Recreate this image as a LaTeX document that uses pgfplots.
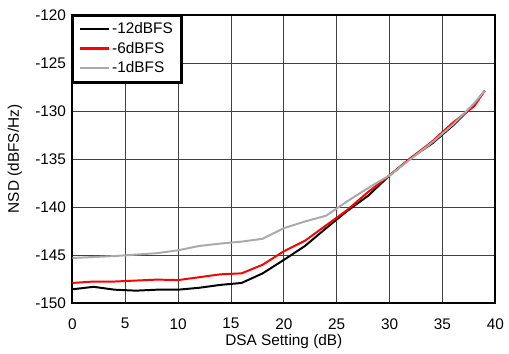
\documentclass[border=0pt]{standalone}
\usepackage{pgfplots}
\pgfplotsset{compat=1.18}
\usepackage{fontspec}
\setmainfont{Liberation Sans}
\definecolor{lgray}{RGB}{170,170,170}
\begin{document}
\fontsize{15.5}{17.3}\selectfont
\begin{tikzpicture}
\begin{axis}[
  scale only axis,
  width=427pt, height=291pt,
  xmin=0, xmax=40, ymin=-150, ymax=-120,
  xtick={0,5,...,40},
  ytick={-150,-145,...,-120},
  yticklabels={-150,-145,-140,-135,-130,-125,-120},
  /pgf/number format/assume math mode=true,
  major tick length=0pt,
  grid=major,
  major grid style={black!75, line width=0.8pt},
  axis line style={black, line width=1.8pt},
  tick label style={font=\fontsize{15.5}{17}\selectfont},
  label style={font=\fontsize{15.5}{17}\selectfont},
  xlabel={DSA Setting (dB)},
  ylabel={NSD (dBFS/Hz)},
  xlabel style={at={(axis description cs:0.5,-0.133)}, anchor=center},
  ylabel style={at={(axis description cs:-0.136,0.5)}, anchor=center},
  xticklabel style={yshift=-10pt},
  yticklabel style={xshift=-1pt},
  legend style={name=leg, at={(0,1)}, anchor=north west, draw=black, line width=2pt,
    font=\fontsize{15.5}{17.3}\selectfont, cells={anchor=west},
    inner xsep=6pt, inner ysep=5pt, row sep=2pt},
  legend image code/.code={\draw[#1, line width=2.3pt] (0pt,0.4pt) -- (29pt,0.4pt);},
  every axis plot/.append style={line width=2pt},
]
\addplot[black] coordinates {
(0,-148.56) (2,-148.3) (4,-148.6) (6,-148.7) (8,-148.6) (10,-148.6) (12,-148.4) (14,-148.1) (16,-147.9) (18,-146.9) (20,-145.5) (22,-144.05) (24,-142.2) (26,-140.4) (28,-138.8) (30,-136.7) (32,-134.9) (34,-133.4) (36,-131.5) (38,-129.3) (39,-127.9)};
\addlegendentry{-12dBFS}
\addplot[red] coordinates {
(0,-147.9) (2,-147.75) (4,-147.75) (6,-147.65) (8,-147.55) (10,-147.6) (12,-147.3) (14,-147.0) (16,-146.9) (18,-146.0) (20,-144.6) (22,-143.5) (24,-141.9) (26,-140.3) (28,-138.4) (30,-136.7) (32,-134.9) (34,-133.2) (36,-131.2) (38,-129.5) (39,-127.9)};
\addlegendentry{-6dBFS}
\addplot[lgray] coordinates {
(0,-145.3) (2,-145.2) (4,-145.1) (6,-144.95) (8,-144.8) (10,-144.5) (12,-144.05) (14,-143.8) (16,-143.6) (18,-143.3) (20,-142.2) (22,-141.5) (24,-140.9) (26,-139.4) (28,-138.0) (30,-136.7) (32,-135.0) (34,-133.3) (36,-131.4) (38,-129.2) (39,-127.9)};
\addlegendentry{-1dBFS}
\end{axis}
\draw[black, line width=2pt] (leg.south west) rectangle (leg.north east);
\path ([shift={(-73pt,-43pt)}]current axis.south west) rectangle ([shift={(9pt,15pt)}]current axis.north east);
\end{tikzpicture}
\end{document}
